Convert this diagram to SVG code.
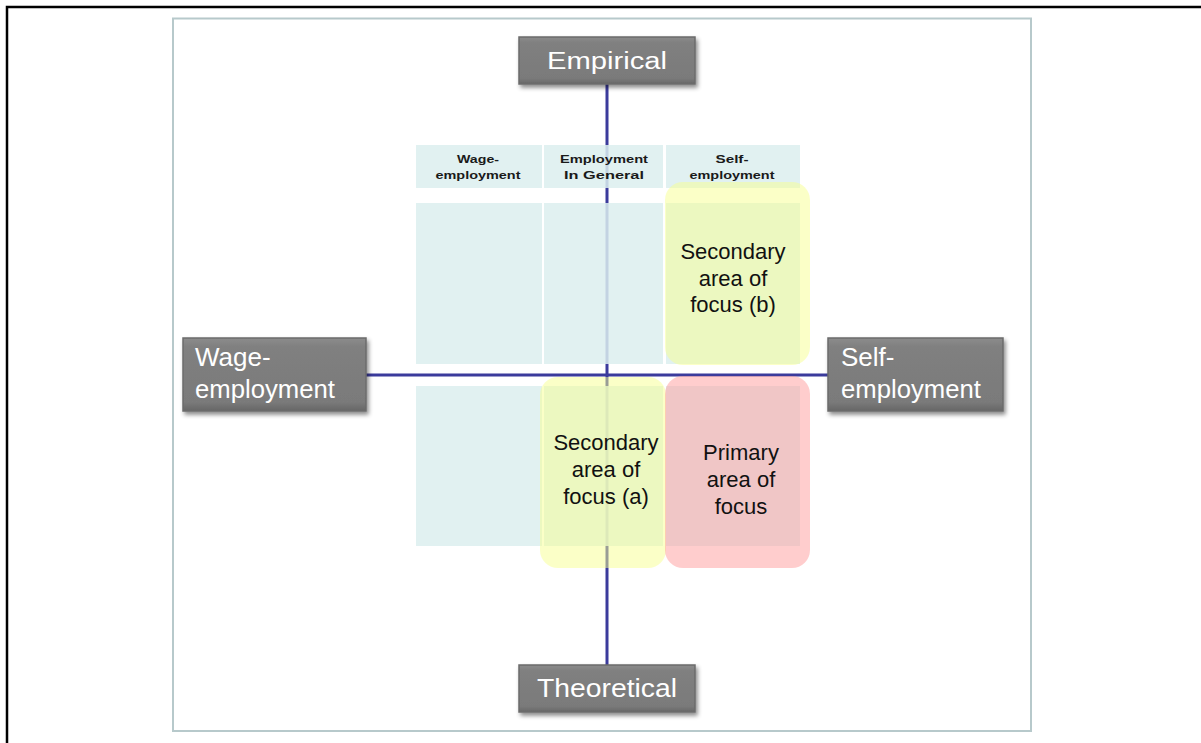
<svg xmlns="http://www.w3.org/2000/svg" width="1201" height="743" viewBox="0 0 1201 743">
  <defs>
    <filter id="shadow" x="-10%" y="-20%" width="125%" height="150%">
      <feDropShadow dx="2" dy="3" stdDeviation="2" flood-color="#000" flood-opacity="0.45"/>
    </filter>
    <linearGradient id="bevel" x1="0" y1="0" x2="0" y2="1">
      <stop offset="0" stop-color="#8c8c8c"/>
      <stop offset="0.12" stop-color="#808080"/>
      <stop offset="0.88" stop-color="#7a7a7a"/>
      <stop offset="1" stop-color="#666"/>
    </linearGradient>
    <style>
      .axis { stroke: #3b3b9c; stroke-width: 3; fill: none; }
      .box { fill: url(#bevel); stroke: #6b6b6b; stroke-width: 1.5; filter: url(#shadow); }
      .boxtext { font-family: "Liberation Sans", Arial, sans-serif; fill: #fff; }
      .cell { fill: #dcefef; fill-opacity: 0.85; }
      .head { font-family: "Liberation Sans", Arial, sans-serif; font-weight: bold; font-size: 11.5px; fill: #1a1a1a; text-anchor: middle; }
      .area { font-family: "Liberation Sans", Arial, sans-serif; font-size: 22px; fill: #111; text-anchor: middle; }
      .yellow { fill: #f8ff90; fill-opacity: 0.5; }
      .pink { fill: #ff9c9c; fill-opacity: 0.5; }
    </style>
  </defs>

  <rect width="1201" height="743" fill="#fff"/>
  <!-- outer frame: top and left edges -->
  <path d="M7 743 V7 H1201" fill="none" stroke="#000" stroke-width="2.5"/>
  <!-- inner panel -->
  <rect x="173" y="18.5" width="858" height="712.5" fill="#fff" stroke="#b7c9cb" stroke-width="2"/>

  <!-- axes -->
  <g id="connectors">
    <line class="axis" x1="607" y1="84" x2="607" y2="665"/>
    <line class="axis" x1="366" y1="375" x2="828" y2="375"/>
  </g>

  <!-- column headers -->
  <g id="header-wage">
    <rect class="cell" x="416" y="145" width="126" height="43"/>
    <text class="head" x="478" y="163" textLength="42" lengthAdjust="spacingAndGlyphs">Wage-</text>
    <text class="head" x="478" y="179" textLength="85" lengthAdjust="spacingAndGlyphs">employment</text>
  </g>
  <g id="header-general">
    <rect class="cell" x="544" y="145" width="119" height="43"/>
    <text class="head" x="604" y="163" textLength="88" lengthAdjust="spacingAndGlyphs">Employment</text>
    <text class="head" x="604" y="179" textLength="80" lengthAdjust="spacingAndGlyphs">In  General</text>
  </g>
  <g id="header-self">
    <rect class="cell" x="666" y="145" width="134" height="43"/>
    <text class="head" x="732" y="163" textLength="33" lengthAdjust="spacingAndGlyphs">Self-</text>
    <text class="head" x="732" y="179" textLength="85" lengthAdjust="spacingAndGlyphs">employment</text>
  </g>

  <!-- grid cells -->
  <g id="grid">
    <rect class="cell" x="416" y="203" width="126" height="161"/>
    <rect class="cell" x="544" y="203" width="119" height="161"/>
    <rect class="cell" x="666" y="203" width="134" height="161"/>
    <rect class="cell" x="416" y="386" width="126" height="160"/>
    <rect class="cell" x="544" y="386" width="119" height="160"/>
    <rect class="cell" x="666" y="386" width="134" height="160"/>
  </g>

  <!-- highlighted areas -->
  <g id="secondary-b">
    <rect class="yellow" x="665" y="182" width="145" height="183" rx="18"/>
    <text class="area" x="733" y="259">Secondary</text>
    <text class="area" x="733" y="286">area of</text>
    <text class="area" x="733" y="312">focus (b)</text>
  </g>
  <g id="secondary-a">
    <rect class="yellow" x="540" y="377" width="126" height="191" rx="18"/>
    <text class="area" x="606" y="450">Secondary</text>
    <text class="area" x="606" y="477">area of</text>
    <text class="area" x="606" y="504">focus (a)</text>
  </g>
  <g id="primary">
    <rect class="pink" x="665" y="376" width="145" height="192" rx="18"/>
    <text class="area" x="741" y="460">Primary</text>
    <text class="area" x="741" y="487">area of</text>
    <text class="area" x="741" y="514">focus</text>
  </g>

  <!-- axis labels -->
  <g id="empirical">
    <rect class="box" x="519" y="37" width="176" height="47"/>
    <text class="boxtext" x="607" y="69" font-size="23" text-anchor="middle" textLength="120" lengthAdjust="spacingAndGlyphs">Empirical</text>
  </g>
  <g id="theoretical">
    <rect class="box" x="519" y="665" width="176" height="47"/>
    <text class="boxtext" x="607" y="697" font-size="25" text-anchor="middle" textLength="140" lengthAdjust="spacingAndGlyphs">Theoretical</text>
  </g>
  <g id="wage-employment">
    <rect class="box" x="183" y="338" width="183" height="73"/>
    <text class="boxtext" x="195" y="366" font-size="26">Wage-</text>
    <text class="boxtext" x="195" y="398" font-size="26" textLength="140" lengthAdjust="spacingAndGlyphs">employment</text>
  </g>
  <g id="self-employment">
    <rect class="box" x="828" y="338" width="175" height="73"/>
    <text class="boxtext" x="841" y="366" font-size="26">Self-</text>
    <text class="boxtext" x="841" y="398" font-size="26" textLength="140" lengthAdjust="spacingAndGlyphs">employment</text>
  </g>
</svg>
